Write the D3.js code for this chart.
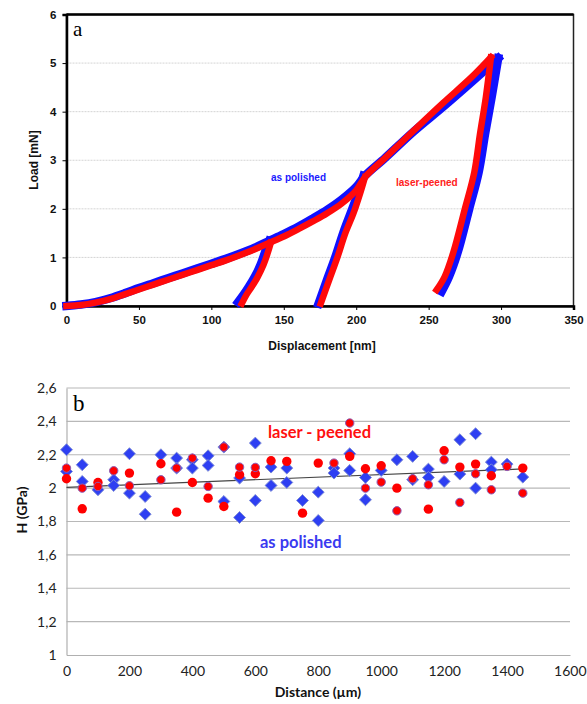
<!DOCTYPE html>
<html><head><meta charset="utf-8">
<script src="https://cdn.jsdelivr.net/npm/d3@7"></script>
<style>body{margin:0;background:#fff}svg{display:block}</style>
</head><body>
<script>
// ---------- Panel a: load–displacement ----------
const dispTicks = [0,50,100,150,200,250,300,350];
const loadTicks = [0,1,2,3,4,5,6];
// as polished (blue)  [displacement nm, load mN]
const polishedLoading = [[0,0],[10,0.03],[20,0.08],[30,0.16],[40,0.26],[50,0.37],[60,0.47],[70,0.57],[80,0.67],[90,0.77],[100,0.87],[110,0.97],[120,1.08],[130,1.2],[140,1.34],[150,1.48],[160,1.63],[170,1.8],[180,1.98],[190,2.19],[200,2.45],[206,2.68],[220,3.05],[240,3.6],[260,4.1],[280,4.62],[298,5.1]];
const polishedUnload1 = [[140,1.34],[137,1.1],[134,0.85],[130,0.6],[126,0.4],[122,0.22],[118.5,0.08]];
const polishedUnload2 = [[205,2.68],[201,2.3],[196,1.9],[191,1.5],[185.5,1.0],[180,0.55],[174,0.05]];
const polishedUnload3 = [[298,5.1],[293.5,4.3],[289,3.55],[284.5,2.75],[278,2.0],[270,1.1],[264,0.6],[259,0.3]];
// laser-peened (red)
const peenedLoading = [[0,0],[10,0.02],[20,0.07],[30,0.14],[40,0.24],[50,0.34],[60,0.44],[70,0.54],[80,0.64],[90,0.74],[100,0.84],[110,0.94],[120,1.05],[130,1.17],[140,1.3],[150,1.43],[160,1.58],[170,1.74],[180,1.91],[190,2.11],[200,2.38],[206,2.65],[220,3.05],[240,3.62],[260,4.18],[280,4.72],[293,5.12]];
const peenedUnload1 = [[141,1.3],[139,1.1],[136,0.85],[132,0.6],[128,0.4],[124,0.22],[121,0.05]];
const peenedUnload2 = [[206,2.65],[202.5,2.3],[198,1.9],[192.5,1.5],[187,1.0],[181.5,0.55],[175.5,0.05]];
const peenedUnload3 = [[293,5.12],[289.5,4.3],[285.5,3.55],[281.5,2.75],[275,2.0],[267,1.1],[261,0.6],[255.5,0.33]];

// ---------- Panel b: hardness vs distance ----------
const distTicks = [0,200,400,600,800,1000,1200,1400,1600];
const hTicks = [1,1.2,1.4,1.6,1.8,2,2.2,2.4,2.6];
const polishedDist = [0,0,50,50,100,150,150,200,200,250,250,300,350,350,400,400,450,450,500,500,550,550,600,600,650,650,700,700,750,800,800,850,850,900,900,950,950,1000,1050,1100,1100,1150,1150,1200,1250,1250,1300,1300,1350,1350,1400,1450];
const polishedH    = [2.23,2.10,2.14,2.04,1.99,2.05,2.016,2.206,1.97,1.95,1.844,2.20,2.18,2.12,2.17,2.12,2.194,2.136,2.246,1.92,2.06,1.824,2.27,1.926,2.126,2.016,2.12,2.034,1.926,1.976,1.806,2.12,2.09,2.206,2.106,2.064,1.93,2.106,2.17,2.19,2.05,2.114,2.064,2.04,2.29,2.084,2.326,2.0,2.156,2.11,2.144,2.066];
const peenedDistA = [0,50,100,150,200,300,350,400,450,500,550,600,850,900,950,1000,1050,1100,1150,1200,1250,1300,1350,1400,1450];
const peenedHA    = [2.12,2.00,2.01,2.104,2.014,2.05,2.12,2.18,2.01,2.246,2.126,2.124,2.15,2.39,2.0,2.036,1.864,2.056,2.02,2.17,1.914,2.086,1.99,2.13,1.97];
const peenedDistB = [0,50,100,200,300,350,400,450,500,550,600,650,700,750,800,900,950,1000,1050,1150,1200,1250,1300,1350,1450];
const peenedHB    = [2.056,1.876,2.034,2.09,2.146,1.856,2.034,1.94,1.89,2.08,2.086,2.164,2.16,1.85,2.15,2.19,2.116,2.134,2.0,1.874,2.224,2.126,2.144,2.074,2.12];
const trendDist = [0,1450];
const trendH = [2.005,2.115];

const svg = d3.select("body").append("svg").attr("width",587).attr("height",704);
svg.append("rect").attr("width",587).attr("height",704).attr("fill","#fff");

// ===== Panel a =====
const xA = d3.scaleLinear().domain([0,350]).range([66.5,573.5]);
const yA = d3.scaleLinear().domain([0,6]).range([306,14.5]);
const gA = svg.append("g");
gA.append("g").selectAll("line").data(loadTicks.filter(d=>d>0&&d<6)).join("line")
  .attr("x1",xA(0)).attr("x2",xA(350)).attr("y1",d=>yA(d)).attr("y2",d=>yA(d))
  .attr("stroke","#d4d4d4").attr("stroke-width",1).attr("stroke-dasharray","2,1");
gA.append("rect").attr("x",xA(0)).attr("y",yA(6)).attr("width",xA(350)-xA(0)).attr("height",yA(0)-yA(6))
  .attr("fill","none").attr("stroke","#222").attr("stroke-width",1.5);
gA.append("line").attr("x1",xA(0)).attr("x2",xA(350)).attr("y1",yA(6)).attr("y2",yA(6)).attr("stroke","#000").attr("stroke-width",2.5);
const axA = gA.append("g").attr("transform",`translate(0,${yA(0)})`)
  .call(d3.axisBottom(xA).tickValues(dispTicks).tickSize(4).tickPadding(6).tickFormat(d3.format("d")));
const ayA = gA.append("g").attr("transform",`translate(${xA(0)},0)`)
  .call(d3.axisLeft(yA).tickValues(loadTicks).tickSize(4).tickPadding(6).tickFormat(d3.format("d")));
[axA,ayA].forEach(a=>{
  a.select(".domain").attr("stroke","#000").attr("stroke-width",2.5);
  a.selectAll(".tick line").attr("stroke","#000");
  a.selectAll("text").attr("font-family","Liberation Sans, Arial, sans-serif").attr("font-size",11.5).attr("font-weight","bold").attr("fill","#111");
});
const lineA = d3.line().x(d=>xA(d[0])).y(d=>yA(d[1])).curve(d3.curveCatmullRom);
const drawSet = (sets,color,w)=>sets.forEach(s=>gA.append("path").attr("d",lineA(s)).attr("fill","none")
  .attr("stroke",color).attr("stroke-width",w).attr("stroke-linejoin","round").attr("stroke-linecap","square"));
drawSet([polishedLoading,polishedUnload1,polishedUnload2,polishedUnload3],"#1010ff",8.5);
drawSet([peenedLoading,peenedUnload1,peenedUnload2,peenedUnload3],"#ff0a0a",6.5);
gA.append("text").attr("x",73).attr("y",36).text("a").attr("font-family","Liberation Serif, Times New Roman, serif").attr("font-size",21);
gA.append("text").attr("x",271).attr("y",181).text("as polished").attr("font-family","Liberation Sans, Arial, sans-serif").attr("font-size",10).attr("font-weight","bold").attr("fill","#1a1aff");
gA.append("text").attr("x",396).attr("y",186).text("laser-peened").attr("font-family","Liberation Sans, Arial, sans-serif").attr("font-size",10).attr("font-weight","bold").attr("fill","#ff2020");
gA.append("text").attr("x",322).attr("y",350).attr("text-anchor","middle").text("Displacement [nm]")
  .attr("font-family","Liberation Sans, Arial, sans-serif").attr("font-size",12).attr("font-weight","bold").attr("fill","#111");
gA.append("text").attr("transform",`translate(38,160) rotate(-90)`).attr("text-anchor","middle").text("Load [mN]")
  .attr("font-family","Liberation Sans, Arial, sans-serif").attr("font-size",12).attr("font-weight","bold").attr("fill","#111");

// ===== Panel b =====
const xB = d3.scaleLinear().domain([0,1600]).range([66.5,570]);
const yB = d3.scaleLinear().domain([1,2.6]).range([655,388]);
const gB = svg.append("g");
gB.append("g").selectAll("line").data(hTicks.filter(d=>d>1)).join("line")
  .attr("x1",xB(0)).attr("x2",xB(1600)).attr("y1",d=>yB(d)).attr("y2",d=>yB(d))
  .attr("stroke","#b8b8b8").attr("stroke-width",1.2);
const axB = gB.append("g").attr("transform",`translate(0,${yB(1)})`)
  .call(d3.axisBottom(xB).tickValues(distTicks).tickSize(0).tickPadding(8).tickFormat(d3.format("d")));
const ayB = gB.append("g").attr("transform",`translate(${xB(0)},0)`)
  .call(d3.axisLeft(yB).tickValues(hTicks).tickSize(0).tickPadding(10).tickFormat(d=>String(+d.toFixed(1)).replace(".",",")));
[axB,ayB].forEach(a=>{
  a.select(".domain").attr("stroke","#b0b0b0").attr("stroke-width",1.2);
  a.selectAll("text").attr("font-family","Lato, Open Sans, sans-serif").attr("font-size",14).attr("fill","#222");
});
axB.selectAll("text").attr("dy","0.9em");
axB.selectAll(".tick").filter(d=>d===1600).select("text").attr("text-anchor","end").attr("x",16);
const trend = d3.line().x((d,i)=>xB(trendDist[i])).y((d,i)=>yB(trendH[i]));
gB.append("path").attr("d",trend(trendDist)).attr("stroke","#444").attr("stroke-width",1.2).attr("fill","none");
const diamond = d3.symbol().type(d3.symbolDiamond2).size(90);
gB.append("g").selectAll("path").data(polishedDist).join("path")
  .attr("d",diamond).attr("transform",(d,i)=>`translate(${xB(d)},${yB(polishedH[i])})`)
  .attr("fill","#2e3ff2").attr("stroke","#7b8ad8").attr("stroke-width",1);
gB.append("g").selectAll("circle").data(peenedDistB).join("circle")
  .attr("cx",d=>xB(d)).attr("cy",(d,i)=>yB(peenedHB[i])).attr("r",4.7).attr("fill","#ff0000");
gB.append("g").selectAll("circle").data(peenedDistA).join("circle")
  .attr("cx",d=>xB(d)).attr("cy",(d,i)=>yB(peenedHA[i])).attr("r",4.2).attr("fill","#ff0000")
  .attr("stroke","#8a5cb8").attr("stroke-width",1);
gB.append("text").attr("x",73).attr("y",411).text("b").attr("font-family","Liberation Serif, Times New Roman, serif").attr("font-size",23);
gB.append("text").attr("x",268).attr("y",438).text("laser - peened").attr("font-family","Lato, Open Sans, sans-serif").attr("font-size",16.5).attr("font-weight","bold").attr("fill","#ff1010");
gB.append("text").attr("x",260).attr("y",548).text("as polished").attr("font-family","Lato, Open Sans, sans-serif").attr("font-size",16.5).attr("font-weight","bold").attr("fill","#3a3af0");
gB.append("text").attr("x",318).attr("y",697).attr("text-anchor","middle").text("Distance (µm)")
  .attr("font-family","Lato, Open Sans, sans-serif").attr("font-size",14).attr("font-weight","bold").attr("fill","#111");
gB.append("text").attr("transform",`translate(27,510) rotate(-90)`).attr("text-anchor","middle").text("H (GPa)")
  .attr("font-family","Lato, Open Sans, sans-serif").attr("font-size",14).attr("font-weight","bold").attr("fill","#111");
</script>
</body></html>
